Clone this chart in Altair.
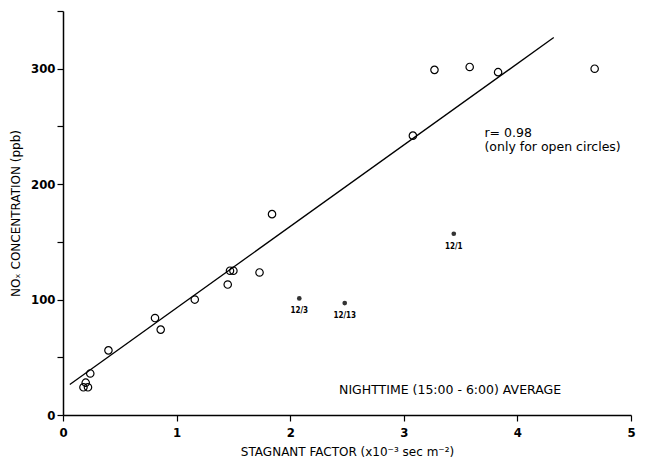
import altair as alt
import pandas as pd

# Open circles (used in regression)
open_x = [0.18, 0.22, 0.20, 0.24, 0.40, 0.81, 0.86, 1.16, 1.45, 1.47, 1.50, 1.73, 1.84, 3.08, 3.27, 3.58, 3.83, 4.68]
open_y = [24, 24, 28, 36, 56, 84, 74, 100, 113, 125, 125, 123.5, 174, 242, 299, 301.5, 297, 300]

# Filled points (excluded)
filled_x = [2.08, 2.48, 3.44]
filled_y = [101, 97, 157]
filled_labels = ["12/3", "12/13", "12/1"]

# Regression line end points
fit_x = [0.06, 4.32]
fit_y = [26.5, 327]

y_ticks = [0, 50, 100, 150, 200, 250, 300, 350]
x_ticks = [0, 1, 2, 3, 4, 5]

df_open = pd.DataFrame({"x": open_x, "y": open_y})
df_filled = pd.DataFrame({"x": filled_x, "y": filled_y, "label": filled_labels})
df_fit = pd.DataFrame({"x": fit_x, "y": fit_y})

xs = alt.Scale(domain=[0, 5], nice=False, zero=False)
ys = alt.Scale(domain=[0, 350], nice=False, zero=False)

common = dict(
    grid=False, tickSize=6, labelFlush=False,
    labelFont="DejaVu Sans Condensed", labelFontWeight="bold", labelFontSize=13,
    titleFont="DejaVu Sans", titleFontSize=12, titleFontWeight="normal",
    domainColor="black", tickColor="black", labelColor="black", titleColor="black",
)
x_axis = alt.Axis(
    title="STAGNANT FACTOR (x10⁻³ sec  m⁻²)", values=x_ticks, format="d",
    labelPadding=5, titlePadding=7, **common,
)
y_axis = alt.Axis(
    title="NOₓ CONCENTRATION (ppb)", values=y_ticks,
    labelExpr="datum.value % 100 == 0 && datum.value < 350 ? datum.label : ''",
    labelPadding=2, titlePadding=8, **common,
)

base_x = alt.X("x:Q", scale=xs, axis=x_axis)
base_y = alt.Y("y:Q", scale=ys, axis=y_axis)

line = alt.Chart(df_fit).mark_line(color="black", strokeWidth=1.3).encode(x=base_x, y=base_y)

opens = alt.Chart(df_open).mark_point(
    shape="circle", filled=False, color="black", size=55, strokeWidth=1.2, opacity=1
).encode(x="x:Q", y="y:Q")

filled = alt.Chart(df_filled).mark_point(
    shape="circle", filled=True, color="#333333", size=22, opacity=1
).encode(x="x:Q", y="y:Q")

flabels = alt.Chart(df_filled).mark_text(
    font="DejaVu Sans Condensed", fontSize=8, fontWeight="bold", dy=13, color="black"
).encode(x="x:Q", y="y:Q", text="label:N")

ann_df = pd.DataFrame({
    "x": [3.71, 3.71, 2.43],
    "y": [244, 232, 22],
    "t": ["r= 0.98", "(only for open circles)", "NIGHTTIME (15:00 - 6:00) AVERAGE"],
})
ann1 = alt.Chart(ann_df.iloc[:2]).mark_text(
    align="left", font="DejaVu Sans", fontSize=12.5, color="black"
).encode(x="x:Q", y="y:Q", text="t:N")
ann2 = alt.Chart(ann_df.iloc[2:]).mark_text(
    align="left", font="DejaVu Sans", fontSize=12.5, color="black"
).encode(x="x:Q", y="y:Q", text="t:N")

chart = (
    alt.layer(line, opens, filled, flabels, ann1, ann2)
    .properties(
        width=568, height=404,
        autosize=alt.AutoSizeParams(type="none"),
        padding={"left": 55, "top": 3, "right": 6, "bottom": 50},
    )
    .configure_view(stroke=None)
    .configure_axis(domainWidth=1.5, tickWidth=1.2)
)

chart.save("out.html", embed_options={"renderer": "svg", "actions": False})
